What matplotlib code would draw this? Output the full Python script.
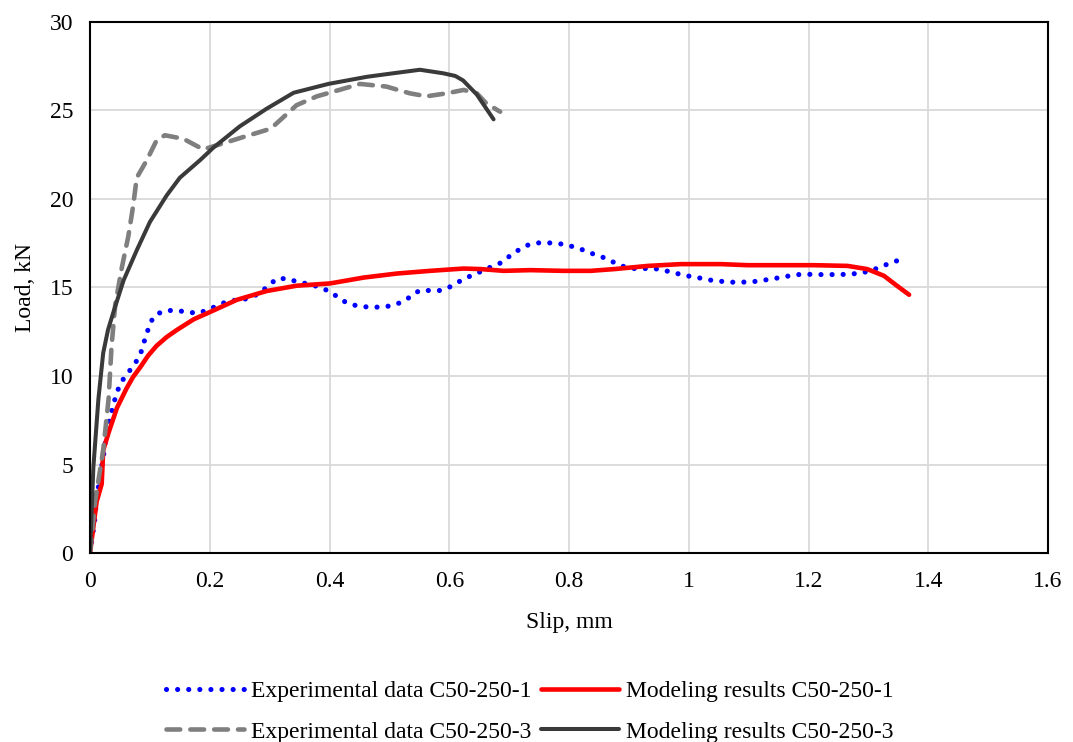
import numpy as np
import matplotlib
matplotlib.use("Agg")
import matplotlib.pyplot as plt

plt.rcParams['font.family'] = ['Liberation Serif', 'DejaVu Serif']

# Experimental data C50-250-1
exp1_x = [0, 0.008, 0.011, 0.022, 0.028, 0.036, 0.045, 0.053, 0.064, 0.075, 0.084, 0.089, 0.095, 0.1,
          0.111, 0.128, 0.145, 0.164, 0.181, 0.198, 0.214, 0.232, 0.251, 0.267, 0.284, 0.298, 0.312,
          0.329, 0.348, 0.365, 0.385, 0.401, 0.415, 0.43, 0.448, 0.466, 0.484, 0.502, 0.519, 0.535,
          0.55, 0.568, 0.586, 0.603, 0.619, 0.636, 0.652, 0.669, 0.686, 0.7, 0.715, 0.731, 0.749,
          0.767, 0.785, 0.803, 0.821, 0.84, 0.857, 0.873, 0.89, 0.907, 0.926, 0.943, 0.962, 0.979,
          0.997, 1.015, 1.033, 1.051, 1.069, 1.087, 1.106, 1.123, 1.142, 1.159, 1.178, 1.196, 1.214,
          1.232, 1.251, 1.268, 1.286, 1.304, 1.322, 1.339, 1.356, 1.362]
exp1_y = [0, 1.9, 3.1, 5.4, 6.8, 8.0, 9.1, 9.7, 10.2, 10.7, 11.2, 11.8, 12.4, 13.0,
          13.5, 13.7, 13.7, 13.6, 13.55, 13.75, 14.0, 14.25, 14.3, 14.4, 14.7, 15.1, 15.5,
          15.5, 15.3, 15.2, 15.0, 14.76, 14.43, 14.1, 13.95, 13.89, 13.89, 13.96, 14.15, 14.47,
          14.83, 14.83, 14.83, 15.06, 15.38, 15.66, 15.89, 16.15, 16.39, 16.75, 17.1, 17.39, 17.52,
          17.52, 17.47, 17.34, 17.15, 16.9, 16.7, 16.45, 16.2, 16.07, 16.07, 16.07, 15.94, 15.8,
          15.66, 15.56, 15.43, 15.36, 15.3, 15.3, 15.32, 15.4, 15.5, 15.6, 15.72, 15.75, 15.73,
          15.73, 15.73, 15.75, 15.81, 15.94, 16.19, 16.41, 16.6, 16.7]

# Modeling results C50-250-1
mod1_x = [0, 0.011, 0.0195, 0.022, 0.031, 0.045, 0.061, 0.072, 0.084, 0.097, 0.111, 0.128, 0.145,
          0.173, 0.206, 0.245, 0.295, 0.345, 0.401, 0.457, 0.513, 0.568, 0.624, 0.652, 0.691, 0.735,
          0.791, 0.836, 0.876, 0.932, 0.987, 1.054, 1.098, 1.154, 1.209, 1.265, 1.298, 1.326, 1.348,
          1.368]
mod1_y = [0, 2.9, 3.9, 5.8, 6.8, 8.2, 9.3, 9.95, 10.5, 11.15, 11.7, 12.2, 12.6,
          13.2, 13.7, 14.3, 14.8, 15.1, 15.23, 15.56, 15.79, 15.94, 16.07, 16.04, 15.94, 15.98,
          15.94, 15.94, 16.04, 16.22, 16.32, 16.32, 16.26, 16.26, 16.26, 16.22, 16.04, 15.66, 15.09,
          14.59]

# Experimental data C50-250-3
exp3_x = [0, 0.0084, 0.022, 0.031, 0.036, 0.042, 0.053, 0.064, 0.072, 0.078, 0.095, 0.111, 0.125,
          0.156, 0.189, 0.223, 0.256, 0.295, 0.306, 0.345, 0.379, 0.406, 0.451, 0.495, 0.534, 0.562,
          0.596, 0.624, 0.646, 0.662, 0.685]
exp3_y = [0, 2.9, 5.8, 8.7, 11.7, 14.0, 16.1, 17.9, 19.6, 21.2, 22.2, 23.3, 23.6,
          23.4, 22.8, 23.15, 23.5, 23.9, 24.1, 25.3, 25.8, 26.06, 26.5, 26.35, 25.97, 25.8,
          25.97, 26.16, 25.97, 25.4, 24.93]

# Modeling results C50-250-3
mod3_x = [0, 0.0056, 0.014, 0.022, 0.03, 0.039, 0.056, 0.078, 0.1, 0.128, 0.15, 0.184, 0.206, 0.25,
          0.295, 0.34, 0.398, 0.462, 0.506, 0.551, 0.59, 0.61, 0.623, 0.646, 0.674]
mod3_y = [0, 4.85, 8.7, 11.3, 12.6, 13.6, 15.4, 17.1, 18.7, 20.2, 21.2, 22.2, 22.9, 24.1,
          25.1, 26.0, 26.5, 26.9, 27.1, 27.3, 27.1, 26.95, 26.7, 25.9, 24.5]

fig = plt.figure(figsize=(10.73, 7.42), dpi=100)
ax = fig.add_axes([0.0839, 0.2547, 0.8928, 0.7157])

l1, = ax.plot(exp1_x, exp1_y, color='#0000ff', lw=3.7, linestyle=(0, (0.01, 2.15)),
              dash_capstyle='round', label='Experimental data C50-250-1')
l2, = ax.plot(mod1_x, mod1_y, color='#ff0000', lw=3.3, solid_capstyle='round',
              solid_joinstyle='round', label='Modeling results C50-250-1')
l3, = ax.plot(exp3_x, exp3_y, color='#7f7f7f', lw=3.3, linestyle=(0, (3.0, 2.2)),
              dash_capstyle='round', label='Experimental data C50-250-3')
l4, = ax.plot(mod3_x, mod3_y, color='#3a3a3a', lw=2.9, solid_capstyle='round',
              solid_joinstyle='round', label='Modeling results C50-250-3')

ax.set_xlim(0, 1.6)
ax.set_ylim(0, 30)
ax.set_xticks(np.arange(0, 1.61, 0.2))
ax.set_xticklabels(['0', '0.2', '0.4', '0.6', '0.8', '1', '1.2', '1.4', '1.6'])
ax.set_yticks(np.arange(0, 31, 5))
ax.tick_params(axis='x', length=0, labelsize=17, pad=13)
ax.tick_params(axis='y', length=0, labelsize=17, pad=12)
ax.grid(color='#d9d9d9', lw=1.3)
ax.set_axisbelow(True)
for s in ax.spines.values():
    s.set_color('black')
    s.set_linewidth(1.5)

ax.set_xlabel('Slip, mm', fontsize=17, labelpad=14)
ax.set_ylabel('Load, kN', fontsize=17, labelpad=10)

fig.legend(handles=[l1, l3, l2, l4], ncol=2, loc='center', bbox_to_anchor=(0.494, 0.041),
           frameon=False, fontsize=17, handlelength=3.3, handletextpad=0.3,
           columnspacing=0.4, labelspacing=0.8)

fig.savefig('out.png', dpi=100)
